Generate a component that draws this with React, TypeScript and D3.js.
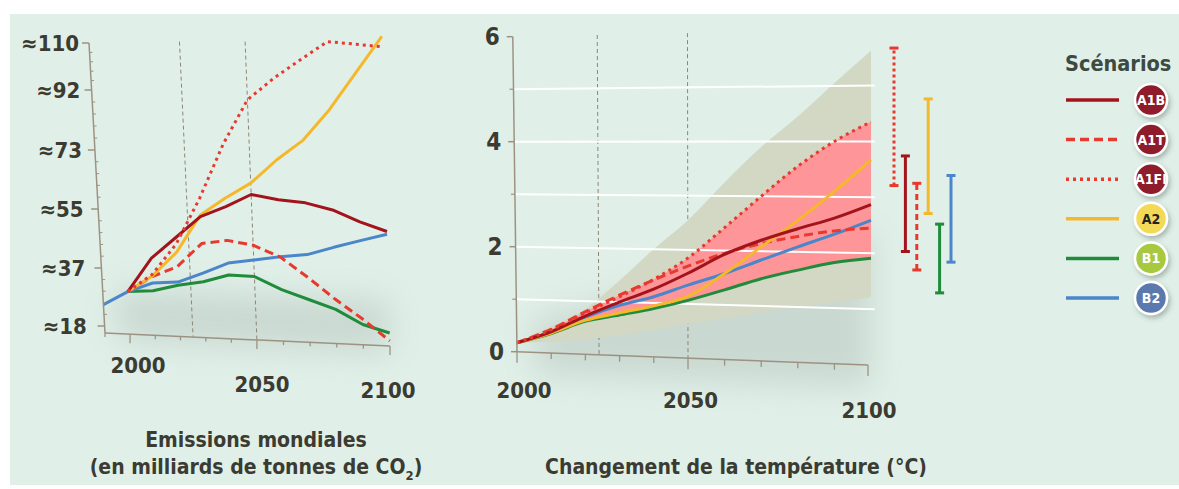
import React from 'react';
import * as d3 from 'd3';

// scenarios, in legend order
const scenarios = ['A1B', 'A1T', 'A1FI', 'A2', 'B1', 'B2'];
const lineColors = ['#a3131b', '#e8392e', '#e8392e', '#f5b82a', '#1f8b3b', '#4a86c9'];
const lineDashes = ['none', '9,5', '3,4', 'none', 'none', 'none'];
const badgeFills = ['#8e1c2b', '#8e1c2b', '#8e1c2b', '#f2da57', '#a8c840', '#5c79ae'];
const badgeInk = ['#ffffff', '#ffffff', '#ffffff', '#222222', '#ffffff', '#ffffff'];

// emissions (Gt CO2)
const emYears = [1990, 2000, 2010, 2020, 2030, 2040, 2050, 2060, 2070, 2080, 2090, 2100];
const emA1B = [null, 29.6, 40.5, 47, 53.5, 56.7, 60.5, 59.1, 58.4, 56.5, 53.2, 50.6];
const emA1T = [null, 29.6, 34.8, 38.2, 45.4, 46.6, 45.4, 42.1, 36.3, 29.7, 23.8, 17.4];
const emA1FI = [null, 29.6, 35.5, 45, 59, 75.5, 89.3, 96.9, 103.8, 110.5, 109.6, 108.6];
const emA2 = [null, 29.6, 35, 42.5, 54, 59.3, 63.9, 71, 77.1, 86.5, 98.9, 112.4];
const emB1 = [null, 29.6, 30.2, 32.3, 33.7, 36.2, 36, 32.1, 29.3, 26.5, 22.1, 19.8];
const emB2 = [25, 29.6, 32.7, 33.3, 36.5, 39.8, 41, 42.2, 43.1, 45.5, 47.7, 49.8];
const emSeries = [emA1B, emA1T, emA1FI, emA2, emB1, emB2];
const emTicks = [18, 37, 55, 73, 92, 110];
const emYearLabels = [2000, 2050, 2100];
const emGuides = [2025, 2050];

// temperature change (°C)
const tYears = [2000, 2010, 2020, 2030, 2040, 2050, 2060, 2070, 2080, 2090, 2100];
const tA1B = [0.17, 0.4, 0.72, 1.0, 1.26, 1.57, 1.93, 2.2, 2.42, 2.62, 2.87];
const tA1T = [0.17, 0.45, 0.8, 1.13, 1.43, 1.7, 1.95, 2.14, 2.28, 2.39, 2.45];
const tA1FI = [0.17, 0.44, 0.78, 1.1, 1.44, 1.85, 2.42, 3.0, 3.55, 4.0, 4.35];
const tA2 = [0.17, 0.38, 0.64, 0.8, 0.95, 1.15, 1.58, 2.08, 2.57, 3.1, 3.67];
const tB1 = [0.17, 0.37, 0.62, 0.76, 0.9, 1.07, 1.28, 1.5, 1.67, 1.82, 1.91];
const tB2 = [0.17, 0.4, 0.7, 0.94, 1.12, 1.35, 1.58, 1.84, 2.09, 2.33, 2.59];
const tSeries = [tA1B, tA1T, tA1FI, tA2, tB1, tB2];
const tRangeLow = [0.17, 0.22, 0.28, 0.38, 0.5, 0.64, 0.76, 0.88, 1.0, 1.1, 1.21];
const tRangeHigh = [0.17, 0.5, 0.85, 1.4, 2.0, 2.55, 3.25, 3.9, 4.45, 5.05, 5.62];
const tTicks = [0, 2, 4, 6];
const tMinor = [1, 3, 5];
const tGrid = [1, 2, 3, 4, 5];
const tYearLabels = [2000, 2050, 2100];
const tGuides = [2024, 2050];

// likely ranges at 2100, same order as scenarios
const barLow = [2.03, 1.7, 3.21, 2.71, 1.29, 1.84];
const barHigh = [3.74, 3.25, 5.67, 4.76, 2.52, 3.39];
const barOrder = ['A1FI', 'A1B', 'A1T', 'A2', 'B1', 'B2'];

const W = 1179;
const H = 489;
const ink = '#3b3b32';
const axisColor = '#9d9282';
const font = "'DejaVu Sans Condensed', 'Liberation Sans Narrow', 'DejaVu Sans', sans-serif";

// left panel: drawn in a slight perspective
const emU = d3.scaleLinear().domain([1990, 2000, 2025, 2050, 2100]).range([0, 0.088, 0.309, 0.533, 1]);
const emY = d3.scaleLinear().domain([16, 18, 37, 55, 73, 92, 110]).range([333, 326, 268, 209, 150, 90, 43]);
function projL(year: number, v: number): [number, number] {
  const u = emU(year);
  const yl = emY(v);
  const t = (333 - yl) / 290;
  return [105 - 16 * t + u * (285 + 8 * t), yl + u * 13 * (1 - t)];
}

// right panel
const tX = d3.scaleLinear().domain([2000, 2050, 2100]).range([517, 688, 871]);
const tY = d3.scaleLinear().domain([0, 6]).range([351.7, 36.7]);
function projR(year: number, v: number): [number, number] {
  const u = (year - 2000) / 100;
  return [tX(year) - 0.7 * v * Math.pow(Math.max(0, 1 - u), 3), tY(v) + u * (13.3 - 3.4 * v)];
}

const barX = d3.scalePoint<string>().domain(barOrder).range([894, 951]);

export default function App() {
  const lineL = d3.line<[number, number]>().x(d => d[0]).y(d => d[1]);
  const lineR = d3.line<[number, number]>().x(d => d[0]).y(d => d[1]).curve(d3.curveMonotoneX);

  const emPaths = emSeries.map(s =>
    lineL(emYears.map((y, i) => [y, s[i]] as [number, number | null])
      .filter(d => d[1] !== null)
      .map(d => projL(d[0], d[1] as number))));

  const tPaths = tSeries.map(s => lineR(tYears.map((y, i) => projR(y, s[i]))));

  const band = d3.area<number>()
    .x0(i => projR(tYears[i], tRangeLow[i])[0])
    .y0(i => projR(tYears[i], tRangeLow[i])[1])
    .x1(i => projR(tYears[i], tRangeHigh[i])[0])
    .y1(i => projR(tYears[i], tRangeHigh[i])[1])
    .curve(d3.curveMonotoneX);
  const idx = tYears.map((_, i) => i);
  const envLow = tYears.map((_, i) => d3.min(tSeries, s => s[i]) as number);
  const envHigh = tYears.map((_, i) => d3.max(tSeries, s => s[i]) as number);
  const pink = d3.area<number>()
    .x0(i => projR(tYears[i], envLow[i])[0])
    .y0(i => projR(tYears[i], envLow[i])[1])
    .x1(i => projR(tYears[i], envHigh[i])[0])
    .y1(i => projR(tYears[i], envHigh[i])[1])
    .curve(d3.curveMonotoneX);

  const drawOrder = [4, 5, 1, 3, 0, 2];
  const emMinor = d3.range(0, 5).flatMap(k => d3.range(1, 5).map(j => emTicks[k] + (emTicks[k + 1] - emTicks[k]) * j / 5));
  const emDecades = d3.range(1990, 2101, 10);
  const tDecades = d3.range(2000, 2101, 10);

  const [la0, la1] = [projL(1990, 16), projL(1990, 110)];
  const [lb0, lb1] = [projL(1990, 16), projL(2100, 16)];
  const [ra0, ra1] = [projR(2000, 0), projR(2000, 6)];
  const [rb0, rb1] = [projR(2000, 0), projR(2100, 0)];

  const shadowL = [projL(1995, 30), projL(2100, 30), projL(2100, 14), projL(1995, 14)];
  const shadowR = [projR(2005, 0.6), projR(2100, 2.4), projR(2100, -0.4), projR(2005, -0.4)];

  return (
    <svg width={W} height={H} style={{ position: 'absolute', left: 0, top: 0, fontFamily: font }}>
      <defs>
        <filter id="soft" x="-50%" y="-50%" width="200%" height="200%">
          <feGaussianBlur stdDeviation="16" />
        </filter>
        <filter id="drop" x="-50%" y="-50%" width="200%" height="200%">
          <feDropShadow dx="2" dy="3" stdDeviation="2.5" floodColor="#3a4a40" floodOpacity="0.35" />
        </filter>
      </defs>
      <rect x={0} y={0} width={W} height={H} fill="#ffffff" />
      <rect x={10} y={14} width={W - 10} height={471} fill="#e0f0e8" />

      {/* soft shadows */}
      <g filter="url(#soft)" opacity={0.2}>
        <polygon points={shadowL.map(p => p.join(',')).join(' ')} fill="#6f7d74" />
        <polygon points={shadowR.map(p => p.join(',')).join(' ')} fill="#6f7d74" />
      </g>

      {/* ---- left panel ---- */}
      {emGuides.map(g => {
        const a = projL(g, 110.5);
        const b = projL(g, 16);
        return <line key={g} x1={a[0]} y1={a[1]} x2={b[0]} y2={b[1]} stroke="#8f8576" strokeWidth={1} strokeDasharray="4,3" />;
      })}
      {drawOrder.map(i => (
        <path key={i} d={emPaths[i] || ''} fill="none" stroke={lineColors[i]} strokeWidth={3}
          strokeDasharray={lineDashes[i]} strokeLinejoin="round" />
      ))}
      <line x1={la0[0]} y1={la0[1]} x2={la1[0]} y2={la1[1]} stroke={axisColor} strokeWidth={1.5} />
      <line x1={lb0[0]} y1={lb0[1]} x2={lb1[0]} y2={lb1[1]} stroke={axisColor} strokeWidth={1.5} />
      {emTicks.map(v => {
        const p = projL(1990, v);
        const t = (333 - emY(v)) / 290;
        return (
          <g key={v}>
            <line x1={p[0] - 7} y1={p[1]} x2={p[0]} y2={p[1]} stroke={axisColor} strokeWidth={1.5} />
            <text x={p[0] - 10 - 8 * (1 - t)} y={p[1]} dy="0.35em" textAnchor="end" fontSize={22} fontWeight="bold" fill={ink}>
              {'≈' + v}
            </text>
          </g>
        );
      })}
      {emMinor.map(v => {
        const p = projL(1990, v);
        return <line key={v} x1={p[0]} y1={p[1]} x2={p[0] + 3} y2={p[1]} stroke={axisColor} strokeWidth={1} />;
      })}
      {emDecades.map(y => {
        const p = projL(y, 16);
        const len = emYearLabels.includes(y) ? 9 : 4;
        return <line key={y} x1={p[0]} y1={p[1]} x2={p[0]} y2={p[1] + len} stroke={axisColor} strokeWidth={1.3} />;
      })}
      {emYearLabels.map(y => {
        const p = projL(y, 16);
        const u = emU(y);
        return (
          <text key={y} x={p[0] + 8 - 10 * u * u} y={p[1] + 29 + 15 * Math.min(1, u * 1.9)} dy="0.35em" textAnchor="middle"
            fontSize={22} fontWeight="bold" fill={ink}>{y}</text>
        );
      })}
      <text x={256} y={447} textAnchor="middle" fontSize={21} fontWeight="bold" fill={ink}>Emissions mondiales</text>
      <text x={256} y={474} textAnchor="middle" fontSize={21} fontWeight="bold" fill={ink}>
        (en milliards de tonnes de CO<tspan dy={6} fontSize={13}>2</tspan><tspan dy={-6}>)</tspan>
      </text>

      {/* ---- right panel ---- */}
      {tGuides.map(g => {
        const a = projR(g, 6);
        const b = projR(g, 0);
        return <line key={g} x1={a[0]} y1={a[1]} x2={b[0]} y2={b[1]} stroke="#8f8576" strokeWidth={1} strokeDasharray="4,3" />;
      })}
      <path d={band(idx) || ''} fill="#d2d8c4" />
      <path d={pink(idx) || ''} fill="#fd9599" />
      {tGrid.map(v => {
        const a = projR(2000, v);
        const b = projR(2101, v);
        return <line key={v} x1={a[0]} y1={a[1]} x2={b[0]} y2={b[1]} stroke="#ffffff" strokeWidth={2} />;
      })}
      {drawOrder.map(i => (
        <path key={i} d={tPaths[i] || ''} fill="none" stroke={lineColors[i]} strokeWidth={3}
          strokeDasharray={lineDashes[i]} strokeLinecap="butt" />
      ))}
      <line x1={ra0[0]} y1={ra0[1]} x2={ra1[0]} y2={ra1[1]} stroke={axisColor} strokeWidth={1.5} />
      <line x1={rb0[0]} y1={rb0[1]} x2={rb1[0] - 3} y2={rb1[1]} stroke={axisColor} strokeWidth={1.5} />
      {tTicks.map(v => {
        const p = projR(2000, v);
        return (
          <g key={v}>
            <line x1={p[0] - 6} y1={p[1]} x2={p[0]} y2={p[1]} stroke={axisColor} strokeWidth={1.5} />
            <text x={p[0] - 13} y={p[1]} dy="0.35em" textAnchor="end" fontSize={24} fontWeight="bold" fill={ink}>{v}</text>
          </g>
        );
      })}
      {tMinor.map(v => {
        const p = projR(2000, v);
        return <line key={v} x1={p[0] - 4} y1={p[1]} x2={p[0]} y2={p[1]} stroke={axisColor} strokeWidth={1.2} />;
      })}
      {tDecades.map(y => {
        const p = projR(y, 0);
        const len = tYearLabels.includes(y) ? 11 : 6;
        const x = y === 2100 ? p[0] - 3 : p[0];
        return <line key={y} x1={x} y1={p[1]} x2={x} y2={p[1] + len} stroke={axisColor} strokeWidth={1.3} />;
      })}
      {tYearLabels.map(y => {
        const p = projR(y, 0);
        const u = (y - 2000) / 100;
        return (
          <text key={y} x={p[0] + 7 - 9 * u} y={p[1] + 39 + 6 * u} dy="0.35em" textAnchor="middle"
            fontSize={22} fontWeight="bold" fill={ink}>{y}</text>
        );
      })}
      <text x={736} y={474} textAnchor="middle" fontSize={21} fontWeight="bold" fill={ink}>
        Changement de la température (°C)
      </text>

      {/* likely ranges at 2100 */}
      {barOrder.map(name => {
        const i = scenarios.indexOf(name);
        const x = barX(name) as number;
        const y0 = projR(2100, barLow[i])[1];
        const y1 = projR(2100, barHigh[i])[1];
        return (
          <g key={name} stroke={lineColors[i]} strokeWidth={3}>
            <line x1={x} y1={y0} x2={x} y2={y1} strokeDasharray={lineDashes[i] === 'none' ? undefined : (name === 'A1FI' ? '3,3' : '6,4')} />
            <line x1={x - 4.5} y1={y0} x2={x + 4.5} y2={y0} />
            <line x1={x - 4.5} y1={y1} x2={x + 4.5} y2={y1} />
          </g>
        );
      })}

      {/* legend */}
      <text x={1065} y={71} fontSize={21.5} fontWeight="bold" fill="#3c4a42">Scénarios</text>
      {scenarios.map((name, i) => {
        const y = 100 + i * 39.6;
        return (
          <g key={name}>
            <line x1={1066} y1={y} x2={1119} y2={y} stroke={lineColors[i]} strokeWidth={3.5} strokeDasharray={lineDashes[i]} />
            <circle cx={1151} cy={y} r={16} fill={badgeFills[i]} stroke="#ffffff" strokeWidth={2.5} filter="url(#drop)" />
            <text x={1151} y={y} dy="0.36em" textAnchor="middle" fontSize={14} fontWeight="bold" fill={badgeInk[i]}>{name}</text>
          </g>
        );
      })}
    </svg>
  );
}
